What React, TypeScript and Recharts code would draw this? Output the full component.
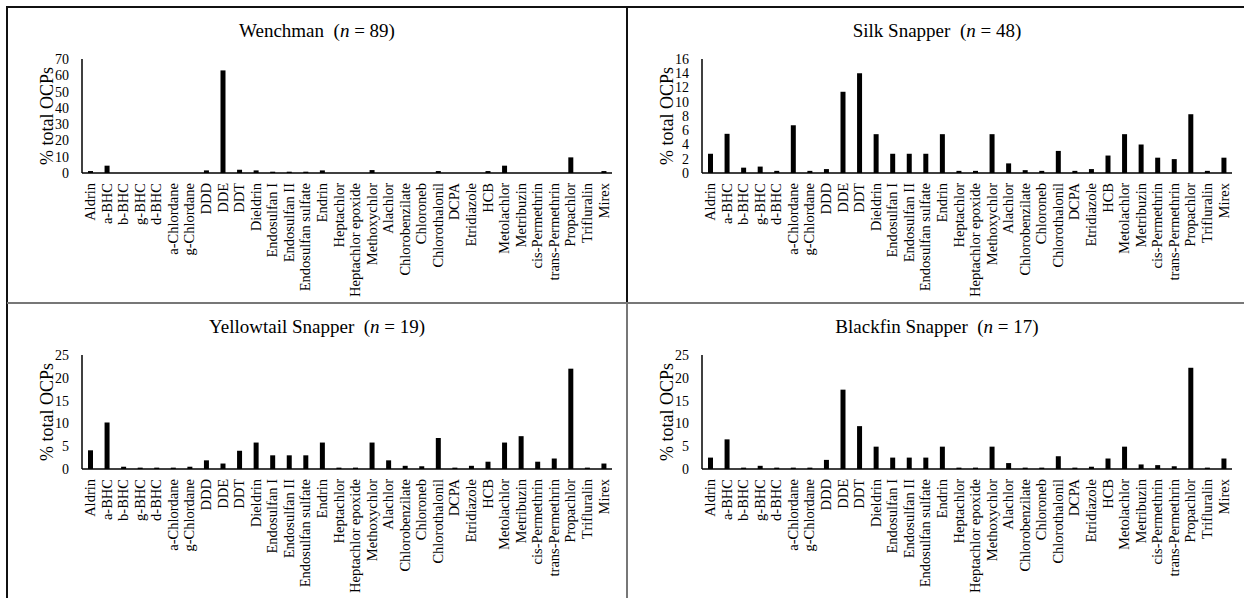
import { BarChart, Bar, XAxis, YAxis } from "recharts";

const FONT = "'Liberation Serif', 'Times New Roman', serif";

const categories = [
  "Aldrin", "a-BHC", "b-BHC", "g-BHC", "d-BHC", "a-Chlordane", "g-Chlordane",
  "DDD", "DDE", "DDT", "Dieldrin", "Endosulfan I", "Endosulfan II",
  "Endosulfan sulfate", "Endrin", "Heptachlor", "Heptachlor epoxide",
  "Methoxychlor", "Alachlor", "Chlorobenzilate", "Chloroneb", "Chlorothalonil",
  "DCPA", "Etridiazole", "HCB", "Metolachlor", "Metribuzin", "cis-Permethrin",
  "trans-Permethrin", "Propachlor", "Trifluralin", "Mirex",
];

const wenchman = [
  1.2, 4.5, 0, 0, 0, 0, 0, 1.6, 63, 2.0, 1.6, 0.8, 0.8, 0.8, 1.6, 0, 0, 1.8,
  0, 0, 0, 1.2, 0, 0, 1.2, 4.5, 0, 0, 0, 9.6, 0, 1.2,
];
const silkSnapper = [
  2.7, 5.5, 0.75, 0.9, 0.3, 6.7, 0.3, 0.55, 11.4, 14.0, 5.45, 2.7, 2.7, 2.7,
  5.45, 0.3, 0.3, 5.45, 1.35, 0.4, 0.3, 3.1, 0.3, 0.55, 2.45, 5.45, 4.0, 2.15,
  1.95, 8.25, 0.3, 2.15,
];
const yellowtail = [
  4.1, 10.2, 0.5, 0.3, 0.3, 0.3, 0.5, 1.9, 1.2, 4.0, 5.8, 3.0, 3.0, 3.0, 5.8,
  0.3, 0.3, 5.8, 1.9, 0.7, 0.6, 6.8, 0.3, 0.7, 1.6, 5.8, 7.2, 1.6, 2.3, 22.0,
  0.3, 1.2,
];
const blackfin = [
  2.5, 6.5, 0.3, 0.7, 0.3, 0.3, 0.3, 2.0, 17.4, 9.4, 4.9, 2.5, 2.5, 2.5, 4.9,
  0.3, 0.3, 4.9, 1.3, 0.3, 0.3, 2.8, 0.3, 0.5, 2.3, 4.9, 1.0, 0.85, 0.6, 22.2,
  0.3, 2.3,
];

const ticks70 = [0, 10, 20, 30, 40, 50, 60, 70];
const ticks16 = [0, 2, 4, 6, 8, 10, 12, 14, 16];
const ticks25 = [0, 5, 10, 15, 20, 25];

const panels = [
  { name: "Wenchman", n: 89, values: wenchman, ticks: ticks70, left: 7, top: 7 },
  { name: "Silk Snapper", n: 48, values: silkSnapper, ticks: ticks16, left: 627, top: 7 },
  { name: "Yellowtail Snapper", n: 19, values: yellowtail, ticks: ticks25, left: 7, top: 303 },
  { name: "Blackfin Snapper", n: 17, values: blackfin, ticks: ticks25, left: 627, top: 303 },
];

const CategoryTick = (props: any) => {
  const { x, y, payload } = props;
  return (
    <g transform={`translate(${x},${y})`}>
      <text
        transform="rotate(-90)"
        textAnchor="end"
        dy="0.33em"
        fontSize={14.5}
        fontFamily={FONT}
        fill="#000"
      >
        {payload.value}
      </text>
    </g>
  );
};

function Panel({ p }: { p: (typeof panels)[number] }) {
  const data = categories.map((name, i) => ({ name, value: p.values[i] }));
  const max = p.ticks[p.ticks.length - 1];
  return (
    <div style={{ position: "absolute", left: p.left, top: p.top, width: 620, height: 296 }}>
      <div
        style={{
          position: "absolute",
          top: 14,
          left: 0,
          width: 620,
          textAlign: "center",
          fontFamily: FONT,
          fontSize: 19,
          whiteSpace: "pre",
          lineHeight: "20px",
        }}
      >
        {p.name}  (<i>n</i> = {p.n})
      </div>
      <BarChart
        width={620}
        height={296}
        data={data}
        margin={{ top: 52, right: 15, left: 0, bottom: 0 }}
      >
        <XAxis
          dataKey="name"
          interval={0}
          tickLine={false}
          tickSize={0}
          tickMargin={10}
          height={130}
          axisLine={{ stroke: "#000", strokeWidth: 1.5 }}
          tick={<CategoryTick />}
        />
        <YAxis
          type="number"
          domain={[0, max]}
          ticks={p.ticks}
          interval={0}
          width={75}
          tickLine={false}
          tickSize={0}
          tickMargin={13}
          axisLine={{ stroke: "#000", strokeWidth: 1.5 }}
          tick={{ fontSize: 14, fontFamily: FONT, fill: "#000" }}
          label={{
            value: "% total OCPs",
            angle: -90,
            position: "insideLeft",
            offset: 40,
            style: { textAnchor: "middle", fontSize: 18, fontFamily: FONT, fill: "#000" },
          }}
        />
        <Bar dataKey="value" fill="#000" barSize={5} isAnimationActive={false} />
      </BarChart>
    </div>
  );
}

export default function App() {
  return (
    <div
      style={{
        position: "absolute",
        left: 0,
        top: 0,
        width: 1244,
        height: 598,
        overflow: "hidden",
        background: "#fff",
      }}
    >
      {panels.map((p) => (
        <Panel key={p.name} p={p} />
      ))}
      <div style={{ position: "absolute", left: 6, top: 6, width: 1238, height: 2, background: "#111" }} />
      <div style={{ position: "absolute", left: 6, top: 6, width: 2, height: 592, background: "#111" }} />
      <div style={{ position: "absolute", left: 626, top: 6, width: 2, height: 297, background: "#111" }} />
      <div style={{ position: "absolute", left: 626, top: 303, width: 2, height: 295, background: "#777" }} />
      <div style={{ position: "absolute", left: 7, top: 302, width: 1237, height: 2, background: "#777" }} />
    </div>
  );
}
